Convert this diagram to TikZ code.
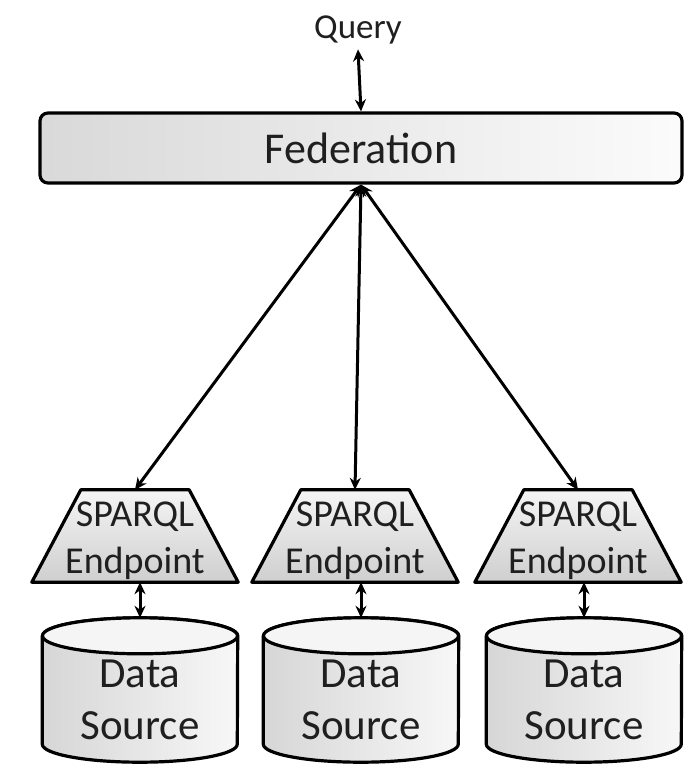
\documentclass[tikz,border=0pt]{standalone}
\usepackage{fontspec}
\setmainfont{Carlito}
\usetikzlibrary{arrows.meta}
\begin{document}
\begin{tikzpicture}[x=1pt,y=-1pt,
  link/.style={line width=3pt,{Stealth[length=12pt,width=11pt]}-{Stealth[length=12pt,width=11pt]}},
  outline/.style={draw=black,line width=3.2pt,line join=round},
  fedbox/.style={outline,rounded corners=8pt,minimum width=642pt,minimum height=70pt,
    left color=gray!30,right color=gray!3,inner sep=0pt,font=\fontsize{44}{50}\selectfont,text=black!88},
  epbox/.style={minimum width=206pt,minimum height=92pt,inner sep=0pt},
  epshape/.style={outline,top color=gray!8,bottom color=gray!38},
  eptext/.style={font=\fontsize{38}{47}\selectfont,align=center,text=black!88,inner sep=0pt},
  dsbox/.style={minimum width=195pt,minimum height=144pt,inner sep=0pt},
  dsbody/.style={outline,left color=gray!32,right color=gray!6},
  dstop/.style={outline,fill=gray!8},
  dstext/.style={font=\fontsize{43}{52}\selectfont,align=center,text=black!88,inner sep=0pt}
]
\useasboundingbox (0,0) rectangle (691,764);

% query and federation layer
\node[font=\fontsize{35}{40}\selectfont,text=black!88,inner sep=5pt] (query) at (358,30) {Query};
\node[fedbox] (fed) at (361,148) {Federation};

% endpoint frames (trapezoids drawn from the frame anchors)
\node[epbox] (ep1) at (135,536) {};
\node[epbox] (ep2) at (355,536) {};
\node[epbox] (ep3) at (578,536) {};
\foreach \e in {ep1,ep2,ep3}{
  \path[epshape] (\e.south west) -- (\e.south east) -- ([xshift=-49pt]\e.north east)
    -- ([xshift=49pt]\e.north west) -- cycle;
}
\node[eptext] (ep1t) at (135,541) {SPARQL\\Endpoint};
\node[eptext] (ep2t) at (355,541) {SPARQL\\Endpoint};
\node[eptext] (ep3t) at (578,541) {SPARQL\\Endpoint};

% data source frames (cylinders drawn from the frame anchors)
\node[dsbox] (ds1) at (140,690) {};
\node[dsbox] (ds2) at (361,690) {};
\node[dsbox] (ds3) at (584,690) {};
\foreach \d in {ds1,ds2,ds3}{
  \path[dsbody] ([yshift=-18pt]\d.north west) -- ([yshift=18pt]\d.south west)
    arc[start angle=180,end angle=360,x radius=97.5pt,y radius=18pt]
    -- ([yshift=-18pt]\d.north east)
    arc[start angle=0,end angle=180,x radius=97.5pt,y radius=18pt] -- cycle;
  \path[dstop] ([yshift=-18pt]\d.north) ellipse[x radius=97.5pt,y radius=18pt];
}
\node[dstext] (ds1t) at (140,700) {Data\\Source};
\node[dstext] (ds2t) at (361,700) {Data\\Source};
\node[dstext] (ds3t) at (584,700) {Data\\Source};

% connectors
\draw[link] (query.south) -- (fed.north);
\draw[link] (fed.south) -- (ep1.north);
\draw[link] (fed.south) -- (ep2.north);
\draw[link] (fed.south) -- (ep3.north);
\draw[link] (ds1.north |- ep1.south) -- (ds1.north);
\draw[link] (ds2.north |- ep2.south) -- (ds2.north);
\draw[link] (ds3.north |- ep3.south) -- (ds3.north);
\end{tikzpicture}
\end{document}
